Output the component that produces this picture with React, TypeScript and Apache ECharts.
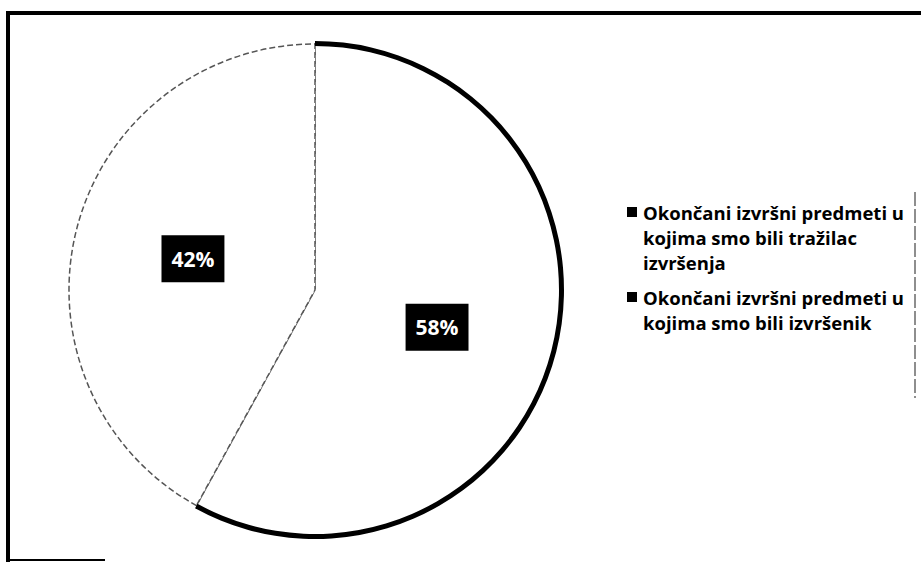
import React, { useEffect, useRef } from "react";
import * as echarts from "echarts";

const categories = [
  "Okončani izvršni predmeti u kojima smo bili tražilac izvršenja",
  "Okončani izvršni predmeti u kojima smo bili izvršenik",
];
const values = [58, 42];
const legendLines = [
  ["Okončani izvršni predmeti u", "kojima smo bili tražilac", "izvršenja"],
  ["Okončani izvršni predmeti u", "kojima smo bili izvršenik"],
];

export default function App() {
  const ref = useRef<HTMLDivElement>(null);
  useEffect(() => {
    if (!ref.current) return;
    const chart = echarts.init(ref.current, null, { renderer: "svg" });
    const data = categories.map((name, i) => ({ name, value: values[i] }));
    const legendGraphics: any[] = [];
    let y = 200;
    legendLines.forEach((lines) => {
      legendGraphics.push({
        type: "rect",
        shape: { x: 627, y: y + 7, width: 10, height: 10 },
        style: { fill: "#000" },
      });
      legendGraphics.push({
        type: "text",
        x: 643,
        y,
        style: {
          text: lines.join("\n"),
          font: "bold 18.5px 'Open Sans', 'Noto Sans', sans-serif",
          lineHeight: 25,
          fill: "#000",
        },
      });
      y += lines.length * 25 + 10;
    });
    chart.setOption({
      animation: false,
      backgroundColor: "#fff",
      series: [
        {
          type: "pie",
          center: [315, 290],
          radius: 246,
          startAngle: 90,
          clockwise: true,
          data: data.map((d) => ({
            ...d,
            label: d.value === 58 ? { offset: [0, 6] } : {},
          })),
          itemStyle: {
            color: "#fff",
            borderColor: "#555",
            borderWidth: 1.5,
            borderType: "dashed",
          },
          label: {
            show: true,
            position: "inside",
            formatter: "{c}%",
            color: "#fff",
            backgroundColor: "#000",
            fontFamily: "'Open Sans', 'Noto Sans', sans-serif",
            fontWeight: "bold",
            fontSize: 21,
            lineHeight: 25,
            padding: [11, 10],
          },
          labelLine: { show: false },
          emphasis: { disabled: true },
          silent: true,
        },
        {
          type: "pie",
          center: [315, 290],
          radius: [244, 249],
          startAngle: 90,
          clockwise: true,
          data: data.map((d, i) => ({
            ...d,
            itemStyle: { color: i === 0 ? "#000" : "rgba(0,0,0,0)" },
          })),
          label: { show: false },
          labelLine: { show: false },
          emphasis: { disabled: true },
          silent: true,
        },
      ],
      graphic: [
        { type: "line", shape: { x1: 6, y1: 13, x2: 921, y2: 13 }, style: { stroke: "#000", lineWidth: 4 } },
        { type: "line", shape: { x1: 8, y1: 11, x2: 8, y2: 562 }, style: { stroke: "#000", lineWidth: 4 } },
        { type: "line", shape: { x1: 8, y1: 560, x2: 105, y2: 560 }, style: { stroke: "#000", lineWidth: 2 } },
        { type: "line", shape: { x1: 915, y1: 192, x2: 915, y2: 398 }, style: { stroke: "#444", lineWidth: 1.2, lineDash: [14, 3] } },
        ...legendGraphics,
      ],
    });
    return () => chart.dispose();
  }, []);
  return (
    <div
      ref={ref}
      style={{ position: "fixed", left: 0, top: 0, width: 921, height: 564 }}
    />
  );
}
